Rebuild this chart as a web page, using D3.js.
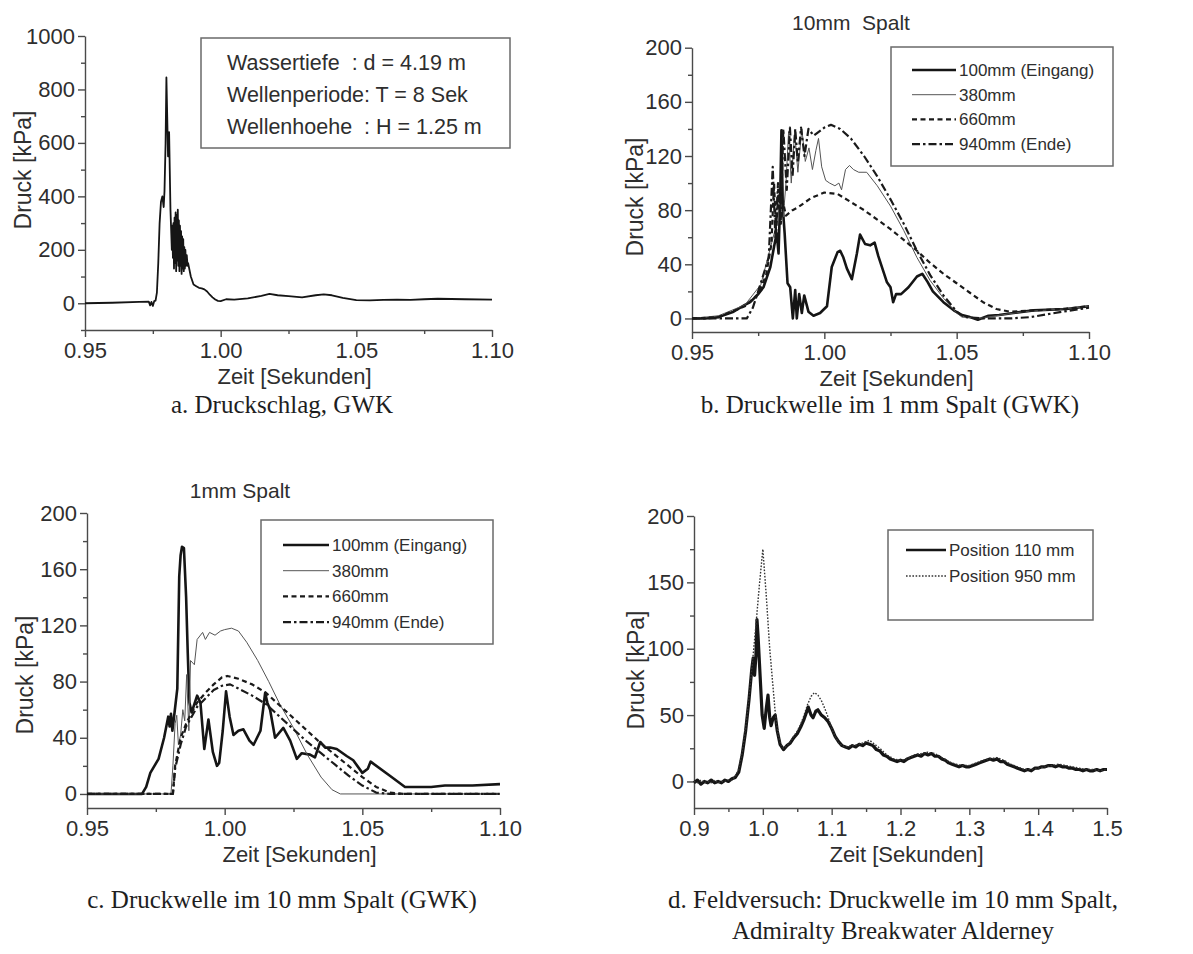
<!DOCTYPE html>
<html>
<head>
<meta charset="utf-8">
<script src="https://cdn.jsdelivr.net/npm/d3@7"></script>
<style>
  body { margin: 0; background: #ffffff; }
  text { font-family: 'Liberation Sans', Arial, sans-serif; fill: #2e2e2e; }
  .caption { font-family: 'Liberation Serif', 'Times New Roman', serif; fill: #1e1e1e; }
</style>
</head>
<body>
<script>
// ---- data: [time s, pressure kPa] ----
const A_DRUCK = [[0.950,0],[0.960,2],[0.970,5],[0.9735,6],[0.974,-8],[0.9745,5],[0.975,-10],[0.9755,8],[0.976,10],[0.9765,40],
  [0.977,150],[0.9775,300],[0.978,380],[0.9785,400],[0.979,360],[0.9793,420],[0.9797,600],[0.980,845],[0.9803,700],[0.9806,550],
  [0.981,640],[0.9815,350],[0.982,200],[0.9822,290],[0.9824,170],[0.9826,300],[0.9828,130],[0.983,320],[0.9832,150],[0.9834,340],
  [0.9836,120],[0.9838,330],[0.984,160],[0.9842,350],[0.9844,140],[0.9846,310],[0.9848,120],[0.985,290],[0.9852,140],[0.9854,270],
  [0.9856,110],[0.9858,250],[0.986,130],[0.9862,240],[0.9864,120],[0.9866,210],[0.9868,130],[0.987,200],[0.9872,140],[0.9875,180],
  [0.9878,140],[0.988,150],[0.989,100],[0.990,70],[0.991,64],[0.992,58],[0.993,56],[0.994,52],[0.995,44],[0.996,32],[0.997,22],
  [0.998,14],[0.999,9],[1.000,8],[1.002,15],[1.005,14],[1.010,18],[1.015,28],[1.018,35],[1.021,30],[1.025,27],[1.030,22],
  [1.035,30],[1.038,33],[1.041,30],[1.045,20],[1.050,12],[1.055,11],[1.060,13],[1.065,14],[1.070,13],[1.075,15],[1.080,17],
  [1.090,15],[1.100,14]];

const B_100 = [[0.950,0],[0.955,0],[0.960,1],[0.9657,5],[0.970,10],[0.972,12],[0.975,18],[0.977,23],[0.9796,38],[0.981,53],
  [0.982,63],[0.9827,48],[0.9833,87],[0.9838,139],[0.9843,82],[0.9850,63],[0.9861,26],[0.9871,23],[0.9881,0],[0.9890,21],
  [0.9896,0],[0.9905,18],[0.9915,4],[0.9924,17],[0.9940,5],[0.9959,2],[0.9984,4],[1.0010,9],[1.0028,38],[1.0050,49],
  [1.0060,50],[1.0072,45],[1.0085,37],[1.0104,29],[1.0123,48],[1.0135,62],[1.0154,55],[1.0173,54],[1.0190,56],[1.0204,46],
  [1.0236,27],[1.0250,23],[1.0260,12],[1.0271,18],[1.0290,18],[1.0318,23],[1.0350,31],[1.0370,33],[1.0390,27],[1.0410,20],
  [1.0450,12],[1.0489,6],[1.0520,2.5],[1.0550,1],[1.0580,-1],[1.0620,2],[1.0660,2.5],[1.0714,4],[1.0790,6],[1.0915,7],[1.1000,9]];
const B_380 = [[0.950,0],[0.960,2],[0.970,10],[0.976,25],[0.980,55],[0.982,70],[0.983,85],[0.9845,75],[0.9855,100],[0.9865,138],
  [0.9875,100],[0.9888,138],[0.9900,108],[0.9915,140],[0.9928,116],[0.9942,126],[0.9955,110],[0.9968,124],[0.9978,133],[0.9990,112],
  [1.0005,102],[1.0020,100],[1.0040,98],[1.0055,100],[1.0065,95],[1.0080,110],[1.0095,113],[1.0110,110],[1.0130,108],[1.0160,108],
  [1.0200,98],[1.0250,83],[1.0300,65],[1.0350,45],[1.0400,28],[1.0450,15],[1.0500,4],[1.0520,1],[1.0580,0],[1.0650,2],
  [1.0750,5],[1.0900,7],[1.1000,9]];
const B_660 = [[0.950,0],[0.960,1],[0.970,9],[0.975,18],[0.978,32],[0.980,55],[0.9810,100],[0.9818,62],[0.9826,95],[0.9835,70],
  [0.9845,85],[0.9855,76],[0.9880,80],[0.9900,82],[0.9950,89],[1.0000,93],[1.0050,92],[1.0100,86],[1.0150,80],[1.0200,73],
  [1.0250,66],[1.0300,58],[1.0350,50],[1.0400,41],[1.0450,33],[1.0500,26],[1.0550,19],[1.0600,12],[1.0650,7],[1.0700,5],
  [1.0800,6],[1.0900,7],[1.1000,9]];
const B_940 = [[0.950,0],[0.960,0],[0.9707,0],[0.9730,8],[0.9750,20],[0.9790,45],[0.9805,112],[0.9815,60],[0.9825,100],[0.9835,70],
  [0.9845,140],[0.9858,95],[0.9870,141],[0.9880,105],[0.9890,140],[0.9900,115],[0.9912,141],[0.9925,120],[0.9940,140],[0.9960,135],
  [0.9980,138],[1.0000,141],[1.0025,143],[1.0060,140],[1.0100,133],[1.0150,120],[1.0200,105],[1.0250,88],[1.0300,70],[1.0350,50],
  [1.0400,32],[1.0450,17],[1.0500,5],[1.0530,1],[1.0600,0],[1.0700,0],[1.0780,1],[1.0900,5],[1.1000,8]];

const C_100 = [[0.950,0],[0.9700,0],[0.9715,5],[0.9730,15],[0.9760,25],[0.9780,40],[0.9795,55],[0.9800,48],[0.9805,57],[0.9810,45],
  [0.9818,58],[0.9828,75],[0.9835,155],[0.9840,170],[0.9845,176],[0.9852,175],[0.9860,140],[0.9866,100],[0.9872,65],[0.9880,58],
  [0.9900,70],[0.9912,65],[0.9926,32],[0.9941,53],[0.9957,30],[0.9972,20],[0.9980,22],[0.9993,45],[1.0005,73],[1.0018,55],
  [1.0032,42],[1.0050,45],[1.0068,46],[1.0090,38],[1.0105,35],[1.0130,45],[1.0147,72],[1.0155,65],[1.0165,60],[1.0183,40],
  [1.0213,47],[1.0238,38],[1.0262,25],[1.0280,29],[1.0310,28],[1.0328,26],[1.0347,37],[1.0365,33],[1.0383,33],[1.0407,32],
  [1.0443,27],[1.0467,24],[1.0500,15],[1.0520,18],[1.0530,23],[1.0600,13],[1.0655,5],[1.0750,5],[1.0800,6],[1.0900,6],[1.1000,7]];
const C_380 = [[0.950,0],[0.9805,0],[0.9812,20],[0.9820,50],[0.9826,56],[0.9832,35],[0.9840,42],[0.9848,60],[0.9855,52],[0.9862,85],
  [0.9870,45],[0.9876,95],[0.9890,92],[0.9900,110],[0.9920,115],[0.9930,110],[0.9945,115],[0.9965,113],[0.9985,116],[1.0000,117],
  [1.0025,118],[1.0050,116],[1.0080,108],[1.0120,95],[1.0160,80],[1.0200,64],[1.0250,47],[1.0300,28],[1.0350,12],[1.0390,3],
  [1.0420,0],[1.1000,0]];
const C_660 = [[0.950,0],[0.9812,0],[0.9820,20],[0.9840,40],[0.9860,50],[0.9880,58],[0.9900,65],[0.9930,72],[0.9960,78],[0.9990,83],
  [1.0010,84],[1.0050,82],[1.0100,78],[1.0150,72],[1.0200,63],[1.0250,54],[1.0300,45],[1.0350,36],[1.0400,28],[1.0450,20],
  [1.0500,12],[1.0550,5],[1.0600,1],[1.0650,0],[1.1000,0]];
const C_940 = [[0.950,0],[0.9812,0],[0.9820,18],[0.9840,35],[0.9860,48],[0.9880,55],[0.9900,62],[0.9930,68],[0.9960,74],[0.9990,77],
  [1.0020,78],[1.0050,75],[1.0100,70],[1.0150,64],[1.0200,55],[1.0250,46],[1.0300,37],[1.0350,29],[1.0400,21],[1.0450,13],
  [1.0500,6],[1.0550,1],[1.0600,0],[1.1000,0]];

const D_110 = [[0.900,-1],[0.905,1],[0.910,-2],[0.915,0],[0.920,-1],[0.925,1],[0.930,-1],[0.935,0],[0.940,-1],[0.945,1],
  [0.950,0],[0.955,2],[0.960,3],[0.965,7],[0.970,20],[0.975,38],[0.980,62],[0.984,85],[0.986,93],[0.988,80],
  [0.990,95],[0.9915,122],[0.993,110],[0.996,80],[0.999,50],[1.002,40],[1.005,55],[1.0075,65],[1.010,48],[1.012,42],
  [1.015,48],[1.018,50],[1.021,38],[1.025,28],[1.030,24],[1.035,27],[1.040,29],[1.045,33],[1.050,36],[1.055,41],
  [1.060,47],[1.066,56],[1.070,50],[1.073,48],[1.077,53],[1.080,54],[1.085,50],[1.090,48],[1.095,45],[1.100,40],
  [1.105,34],[1.110,30],[1.115,27],[1.120,26],[1.125,25],[1.130,27],[1.135,26],[1.140,28],[1.145,27],[1.150,29],
  [1.155,28],[1.160,27],[1.165,24],[1.170,23],[1.175,20],[1.180,19],[1.185,17],[1.190,16],[1.195,15],[1.200,16],
  [1.205,15],[1.210,17],[1.215,18],[1.220,19],[1.225,20],[1.230,19],[1.235,21],[1.240,20],[1.245,21],[1.250,19],
  [1.255,19],[1.260,17],[1.265,16],[1.270,14],[1.275,13],[1.280,12],[1.285,11],[1.290,12],[1.295,11],[1.300,11],
  [1.305,12],[1.310,13],[1.315,14],[1.320,15],[1.325,16],[1.330,17],[1.335,16],[1.340,17],[1.345,15],[1.350,15],
  [1.355,13],[1.360,12],[1.365,11],[1.370,10],[1.375,9],[1.380,8],[1.385,9],[1.390,8],[1.395,10],[1.400,10],
  [1.405,11],[1.410,11],[1.415,12],[1.420,12],[1.425,11],[1.430,12],[1.435,11],[1.440,11],[1.445,10],[1.450,10],
  [1.455,9],[1.460,9],[1.465,8],[1.470,9],[1.475,8],[1.480,8],[1.485,9],[1.490,8],[1.495,9],[1.500,9]];
const D_950 = [[0.900,0],[0.905,-1],[0.910,1],[0.915,-1],[0.920,0],[0.925,-1],[0.930,1],[0.935,-1],[0.940,0],[0.945,0],
  [0.950,1],[0.955,1],[0.960,4],[0.965,9],[0.970,22],[0.975,40],[0.980,64],[0.985,90],[0.990,118],[0.995,148],
  [1.000,175],[1.005,140],[1.010,100],[1.015,70],[1.018,52],[1.022,36],[1.026,28],[1.030,25],[1.035,27],[1.040,30],
  [1.045,34],[1.050,38],[1.055,43],[1.060,50],[1.065,58],[1.070,64],[1.075,67],[1.080,65],[1.085,61],[1.090,55],
  [1.095,48],[1.100,40],[1.105,34],[1.110,29],[1.115,27],[1.120,26],[1.130,27],[1.140,28],[1.150,30],[1.155,31],
  [1.160,29],[1.170,25],[1.180,20],[1.190,17],[1.200,16],[1.210,17],[1.220,20],[1.230,21],[1.240,22],[1.250,21],
  [1.260,18],[1.270,15],[1.280,13],[1.290,12],[1.300,12],[1.310,14],[1.320,16],[1.330,17],[1.340,18],[1.350,16],
  [1.360,13],[1.370,11],[1.380,9],[1.390,9],[1.400,10],[1.410,11],[1.420,12],[1.430,13],[1.440,12],[1.450,11],
  [1.460,10],[1.470,9],[1.480,9],[1.490,8],[1.500,9]];

// tick labels
const X_TICKS_ABC = [0.95, 1.00, 1.05, 1.10];
const X_MINOR_ABC = [0.975, 1.025, 1.075];
const X_TICKS_D = [0.9, 1.0, 1.1, 1.2, 1.3, 1.4, 1.5];
const X_MINOR_D = [0.95, 1.05, 1.15, 1.25, 1.35, 1.45];
const Y_TICKS_A = [0, 200, 400, 600, 800, 1000];
const Y_MINOR_A = [-100, 100, 300, 500, 700, 900];
const Y_TICKS_BC = [0, 40, 80, 120, 160, 200];
const Y_MINOR_BC = [20, 60, 100, 140, 180];
const Y_TICKS_D = [0, 50, 100, 150, 200];
const Y_MINOR_D = [25, 75, 125, 175];

const LEGEND_SPALT = ['100mm (Eingang)', '380mm', '660mm', '940mm (Ende)'];
const LEGEND_FELD = ['Position 110 mm', 'Position 950 mm'];
const INFO_A = ['Wassertiefe  : d = 4.19 m', 'Wellenperiode: T = 8 Sek', 'Wellenhoehe  : H = 1.25 m'];

const X_LABEL = 'Zeit [Sekunden]';
const Y_LABEL = 'Druck [kPa]';

// line styles
const THICK = {width: 2.6, dash: null, color: '#151515'};
const THIN = {width: 1, dash: null, color: '#555555'};
const DASH = {width: 2.2, dash: '5,3.5', color: '#1a1a1a'};
const DASHDOT = {width: 2.2, dash: '8,3,2.5,3', color: '#1a1a1a'};
const DOT = {width: 1.4, dash: '1.6,1.6', color: '#333333'};

const SVG = d3.select('body').append('svg')
  .attr('width', 1193)
  .attr('height', 954);

function drawPanel(p) {
  const X = d3.scaleLinear().domain(p.xDomain).range([p.left, p.right]);
  const Y = d3.scaleLinear().domain(p.yDomain).range([p.bottom, p.top]);

  // minor ticks
  const xm = SVG.append('g').attr('transform', 'translate(0,' + p.bottom + ')')
    .call(d3.axisBottom(X).tickValues(p.xMinor).tickSize(4).tickFormat(''));
  xm.select('.domain').remove();
  const ym = SVG.append('g').attr('transform', 'translate(' + p.left + ',0)')
    .call(d3.axisLeft(Y).tickValues(p.yMinor).tickSize(4).tickFormat(''));
  ym.select('.domain').remove();

  SVG.append('g').attr('transform', 'translate(0,' + p.bottom + ')')
    .call(d3.axisBottom(X).tickValues(p.xTicks).tickSize(7).tickSizeOuter(0).tickPadding(5).tickFormat(d3.format(p.xFormat)))
    .attr('font-size', 22)
    .attr('font-family', null);
  SVG.append('g').attr('transform', 'translate(' + p.left + ',0)')
    .call(d3.axisLeft(Y).tickValues(p.yTicks).tickSize(7).tickSizeOuter(0).tickPadding(3).tickFormat(d3.format('d')))
    .attr('font-size', 22)
    .attr('font-family', null);

  SVG.selectAll('.domain, .tick line').attr('stroke', '#4a4a4a').attr('stroke-width', 1.4);
  SVG.selectAll('.tick text').attr('fill', '#2e2e2e');

  const line = d3.line().x((d) => X(d[0])).y((d) => Y(d[1]));
  p.series.forEach((s) => {
    SVG.append('path')
      .datum(s.data)
      .attr('d', line)
      .attr('fill', 'none')
      .attr('stroke', s.style.color)
      .attr('stroke-width', s.style.width)
      .attr('stroke-dasharray', s.style.dash)
      .attr('stroke-linejoin', 'round');
  });

  SVG.append('text')
    .attr('x', (p.left + p.right) / 2 + 6)
    .attr('y', p.bottom + 54)
    .attr('text-anchor', 'middle')
    .attr('font-size', 22)
    .text(X_LABEL);
  SVG.append('text')
    .attr('transform', 'translate(' + p.yLabel[0] + ',' + p.yLabel[1] + ') rotate(-90)')
    .attr('text-anchor', 'middle')
    .attr('font-size', 23)
    .text(Y_LABEL);

  if (p.title) {
    SVG.append('text')
      .attr('x', p.title.x).attr('y', p.title.y)
      .attr('text-anchor', 'middle')
      .attr('font-size', 21)
      .style('white-space', 'pre')
      .text(p.title.text);
  }

  if (p.legend) {
    const L = p.legend;
    SVG.append('rect')
      .attr('x', L.box[0]).attr('y', L.box[1])
      .attr('width', L.box[2] - L.box[0]).attr('height', L.box[3] - L.box[1])
      .attr('fill', 'none').attr('stroke', '#6a6a6a').attr('stroke-width', 1.5);
    L.labels.forEach((lab, i) => {
      const s = p.series[i];
      const yy = L.y0 + i * L.step;
      SVG.append('line')
        .attr('x1', L.sample[0]).attr('x2', L.sample[1])
        .attr('y1', yy).attr('y2', yy)
        .attr('stroke', s.style.color)
        .attr('stroke-width', Math.min(s.style.width, 2.6))
        .attr('stroke-dasharray', s.style.dash);
      SVG.append('text')
        .attr('x', L.sample[1] + 3).attr('y', yy + 6)
        .attr('font-size', 17)
        .text(lab);
    });
  }

  SVG.append('text')
    .attr('class', 'caption')
    .attr('x', p.caption.x).attr('y', p.caption.y)
    .attr('text-anchor', 'middle')
    .attr('font-size', 25)
    .text(p.caption.lines[0]);
  if (p.caption.lines[1]) {
    SVG.append('text')
      .attr('class', 'caption')
      .attr('x', p.caption.x).attr('y', p.caption.y + 31)
      .attr('text-anchor', 'middle')
      .attr('font-size', 25)
      .text(p.caption.lines[1]);
  }
}

// a. Druckschlag
drawPanel({
  left: 85, right: 492, top: 36, bottom: 330,
  xDomain: [0.95, 1.10], yDomain: [-100, 1000],
  xTicks: X_TICKS_ABC, xMinor: X_MINOR_ABC, xFormat: '.2f',
  yTicks: Y_TICKS_A, yMinor: Y_MINOR_A,
  yLabel: [31, 170],
  series: [{data: A_DRUCK, style: {width: 1.8, dash: null, color: '#151515'}}],
  caption: {x: 282, y: 413, lines: ['a. Druckschlag, GWK']}
});
SVG.append('rect')
  .attr('x', 201).attr('y', 38).attr('width', 309).attr('height', 110)
  .attr('fill', 'none').attr('stroke', '#6a6a6a').attr('stroke-width', 1.5);
INFO_A.forEach((t, i) => {
  SVG.append('text')
    .attr('x', 227).attr('y', 70 + i * 32)
    .attr('font-size', 21.5)
    .style('white-space', 'pre')
    .text(t);
});

// b. 10mm Spalt
drawPanel({
  left: 692, right: 1089, top: 47.7, bottom: 332,
  xDomain: [0.95, 1.10], yDomain: [-10, 200],
  xTicks: X_TICKS_ABC, xMinor: X_MINOR_ABC, xFormat: '.2f',
  yTicks: Y_TICKS_BC, yMinor: Y_MINOR_BC,
  yLabel: [643, 197],
  title: {x: 851, y: 30, text: '10mm  Spalt'},
  series: [
    {data: B_100, style: THICK},
    {data: B_380, style: THIN},
    {data: B_660, style: DASH},
    {data: B_940, style: DASHDOT}
  ],
  legend: {box: [891, 47, 1113, 166], labels: LEGEND_SPALT, y0: 70, step: 24.7, sample: [912, 956]},
  caption: {x: 890, y: 413, lines: ['b. Druckwelle im 1 mm Spalt (GWK)']}
});

// c. 1mm Spalt
drawPanel({
  left: 87, right: 500, top: 513, bottom: 808,
  xDomain: [0.95, 1.10], yDomain: [-10, 200],
  xTicks: X_TICKS_ABC, xMinor: X_MINOR_ABC, xFormat: '.2f',
  yTicks: Y_TICKS_BC, yMinor: Y_MINOR_BC,
  yLabel: [33, 675],
  title: {x: 240, y: 498, text: '1mm Spalt'},
  series: [
    {data: C_100, style: THICK},
    {data: C_380, style: THIN},
    {data: C_660, style: DASH},
    {data: C_940, style: DASHDOT}
  ],
  legend: {box: [261, 520, 493, 644], labels: LEGEND_SPALT, y0: 545, step: 25.7, sample: [283, 329]},
  caption: {x: 282, y: 908, lines: ['c. Druckwelle im 10 mm Spalt (GWK)']}
});

// d. Feldversuch
drawPanel({
  left: 694, right: 1107, top: 516, bottom: 808,
  xDomain: [0.9, 1.5], yDomain: [-20, 200],
  xTicks: X_TICKS_D, xMinor: X_MINOR_D, xFormat: '.1f',
  yTicks: Y_TICKS_D, yMinor: Y_MINOR_D,
  yLabel: [644, 670],
  series: [
    {data: D_110, style: {width: 3.2, dash: null, color: '#151515'}},
    {data: D_950, style: DOT}
  ],
  legend: {box: [888, 530, 1093, 620], labels: LEGEND_FELD, y0: 550, step: 26, sample: [906, 946]},
  caption: {x: 893, y: 908, lines: ['d. Feldversuch: Druckwelle im 10 mm Spalt,', 'Admiralty Breakwater Alderney']}
});
</script>
</body>
</html>
